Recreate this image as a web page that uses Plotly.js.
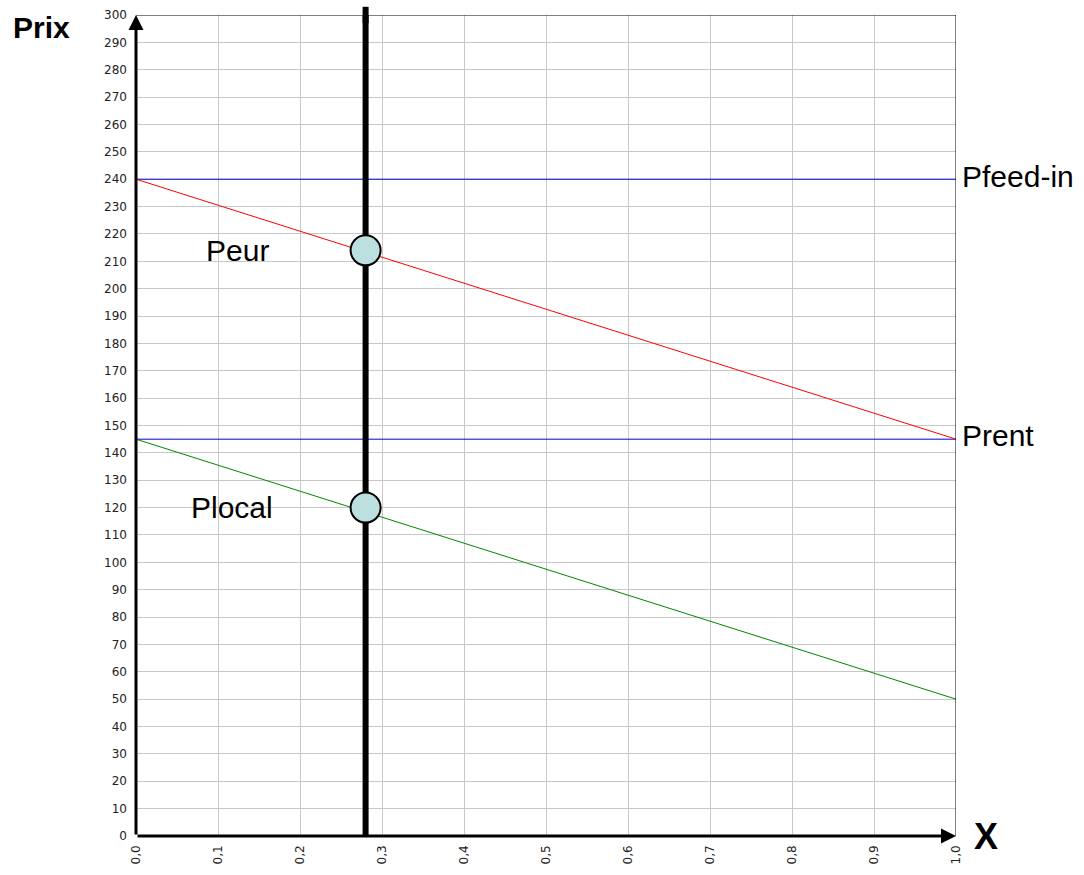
<!DOCTYPE html>
<html>
<head>
<meta charset="utf-8">
<script src="https://cdn.plot.ly/plotly-3.0.1.min.js"></script>
<style>html,body{margin:0;padding:0;background:#fff;}#chart{width:1084px;height:875px;}</style>
</head>
<body>
<div id="chart"></div>
<script>
// Data
const xEnds = [0, 1];
const peurLine = [240, 145];
const plocalLine = [145, 50];
const pfeedIn = [240, 240];
const prent = [145, 145];
const xMarket = [0.28, 0.28];
const yMarket = [0, 300];
const pointX = [0.28, 0.28];
const pointY = [214, 120];
const xTickVals = [0, 0.1, 0.2, 0.3, 0.4, 0.5, 0.6, 0.7, 0.8, 0.9, 1.0];
const xTickText = ["0,0","0,1","0,2","0,3","0,4","0,5","0,6","0,7","0,8","0,9","1,0"];
const yTickVals = [0,10,20,30,40,50,60,70,80,90,100,110,120,130,140,150,160,170,180,190,200,210,220,230,240,250,260,270,280,290,300];

const labelFont = {family: 'Liberation Sans, Arial, sans-serif', size: 30, color: '#000'};
const tickFont = {family: 'DejaVu Sans, Verdana, sans-serif', size: 12, color: '#222'};

const traces = [
  {x: xEnds, y: pfeedIn, mode: 'lines', line: {color: '#0000cc', width: 1}, hoverinfo: 'skip'},
  {x: xEnds, y: prent, mode: 'lines', line: {color: '#0000cc', width: 1}, hoverinfo: 'skip'},
  {x: xEnds, y: peurLine, mode: 'lines', line: {color: '#ff0000', width: 1}, hoverinfo: 'skip'},
  {x: xEnds, y: plocalLine, mode: 'lines', line: {color: '#008800', width: 1}, hoverinfo: 'skip'},
  {x: xMarket, y: yMarket, mode: 'lines', line: {color: '#000000', width: 6}, hoverinfo: 'skip', cliponaxis: false},
  {x: pointX, y: pointY, mode: 'markers', marker: {size: 30, color: '#bcdfe0', line: {color: '#000', width: 2}}, hoverinfo: 'skip', cliponaxis: false}
];

const layout = {
  width: 1084, height: 875,
  margin: {l: 136, r: 128, t: 15, b: 39},
  paper_bgcolor: '#fff', plot_bgcolor: '#fff',
  showlegend: false,
  font: tickFont,
  xaxis: {
    range: [0, 1], tickvals: xTickVals, ticktext: xTickText, tickangle: -90,
    showgrid: true, gridcolor: '#c8c8c8', gridwidth: 1, zeroline: false,
    showline: false, ticks: '', fixedrange: true, ticklabelstandoff: 6,
    tickfont: tickFont
  },
  yaxis: {
    range: [0, 300], tickvals: yTickVals,
    showgrid: true, gridcolor: '#c8c8c8', gridwidth: 1, zeroline: false,
    showline: false, ticks: '', fixedrange: true, ticklabelstandoff: 8,
    tickfont: tickFont
  },
  shapes: [
    {type: 'line', xref: 'x', yref: 'y', x0: 0, x1: 1, y0: 300, y1: 300, line: {color: '#000', width: 1}},
    {type: 'line', xref: 'x', yref: 'y', x0: 1, x1: 1, y0: 0, y1: 300, line: {color: '#000', width: 1}},
    {type: 'line', xref: 'x', yref: 'paper', x0: 0.28, x1: 0.28, y0: 0.99, y1: 1.01, line: {color: '#000', width: 6}}
  ],
  annotations: [
    {x: 0, y: 300, ax: 0, ay: 0, xref: 'x', yref: 'y', axref: 'x', ayref: 'y', showarrow: true, arrowhead: 2, arrowsize: 1, arrowwidth: 3, arrowcolor: '#000', text: ''},
    {x: 1, y: 0, ax: 0, ay: 0, xref: 'x', yref: 'y', axref: 'x', ayref: 'y', showarrow: true, arrowhead: 2, arrowsize: 1, arrowwidth: 3, arrowcolor: '#000', text: ''},
    {x: 1, y: 240, xref: 'x', yref: 'y', text: 'Pfeed-in', showarrow: false, xanchor: 'left', yanchor: 'middle', xshift: 4, yshift: 3, font: labelFont},
    {x: 1, y: 145, xref: 'x', yref: 'y', text: 'Prent', showarrow: false, xanchor: 'left', yanchor: 'middle', xshift: 4, yshift: 4, font: labelFont},
    {x: 0.124, y: 214, xref: 'x', yref: 'y', text: 'Peur', showarrow: false, xanchor: 'center', yanchor: 'middle', font: labelFont},
    {x: 0.117, y: 120, xref: 'x', yref: 'y', text: 'Plocal', showarrow: false, xanchor: 'center', yanchor: 'middle', font: labelFont},
    {x: 0, y: 0, xref: 'paper', yref: 'paper', text: '<b>Prix</b>', showarrow: false, xanchor: 'center', yanchor: 'middle', font: labelFont},
    {x: 1.036, y: 0, xref: 'paper', yref: 'y', text: '<b>X</b>', showarrow: false, xanchor: 'center', yanchor: 'middle', yshift: 0, font: {family: 'Liberation Sans, Arial, sans-serif', size: 36, color: '#000'}}
  ]
};
// Prix position in pixel terms -> paper coords
layout.annotations[6].x = (41 - 136) / (1084 - 136 - 128);
layout.annotations[6].y = 1 + (15 - 27) / (875 - 15 - 39);

Plotly.newPlot('chart', traces, layout, {displayModeBar: false, staticPlot: true});
</script>
</body>
</html>
